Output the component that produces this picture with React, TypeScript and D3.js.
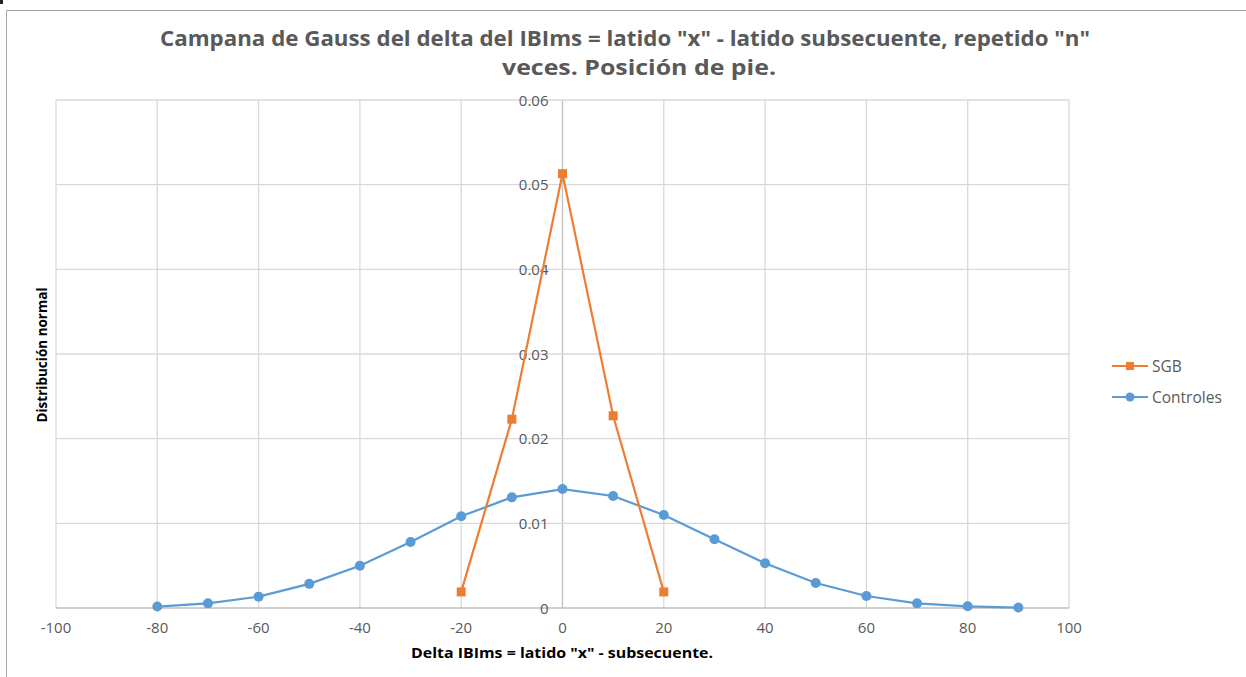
import React from "react";
import * as d3 from "d3";

const xTicks = [-100, -80, -60, -40, -20, 0, 20, 40, 60, 80, 100];
const yTicks = [0, 0.01, 0.02, 0.03, 0.04, 0.05, 0.06];
const yTickLabels = ["0", "0.01", "0.02", "0.03", "0.04", "0.05", "0.06"];

const sgbX = [-20, -10, 0, 10, 20];
const sgbY = [0.0019, 0.0223, 0.0513, 0.0227, 0.0019];

const ctrlX = [-80, -70, -60, -50, -40, -30, -20, -10, 0, 10, 20, 30, 40, 50, 60, 70, 80, 90];
const ctrlY = [0.00017, 0.00055, 0.00134, 0.00285, 0.0050, 0.0078, 0.01083, 0.01307, 0.01405, 0.01323, 0.01098, 0.00811, 0.00528, 0.00295, 0.00142, 0.00055, 0.0002, 0.00005];

const titleLines = ["Campana de Gauss del delta del IBIms = latido \"x\" - latido subsecuente, repetido \"n\"", "veces. Posición de pie."];
const xTitle = "Delta IBIms = latido \"x\" - subsecuente.";
const yTitle = "Distribución normal";
const seriesNames = ["SGB", "Controles"];

const ORANGE = "#ED7D31";
const BLUE = "#5B9BD5";
const FONT = "Open Sans, Noto Sans, sans-serif";

export default function App() {
  const W = 1246, H = 677;
  const x = d3.scaleLinear().domain([-100, 100]).range([56, 1069]);
  const y = d3.scaleLinear().domain([0, 0.06]).range([608, 100]);
  const line = d3.line<[number, number]>().x(d => x(d[0])).y(d => y(d[1]));
  const sgb: [number, number][] = sgbX.map((v, i) => [v, sgbY[i]]);
  const ctrl: [number, number][] = ctrlX.map((v, i) => [v, ctrlY[i]]);

  return (
    <svg width={W} height={H} style={{ position: "absolute", left: 0, top: 0, background: "#fff" }}>
      <rect x={0} y={0} width={W} height={H} fill="#fff" />
      <line x1={6.5} y1={10.5} x2={W} y2={10.5} stroke="#a6a6a6" />
      <line x1={6.5} y1={10.5} x2={6.5} y2={H} stroke="#a6a6a6" />
      <rect x={0} y={0} width={3} height={4} fill="#222" />
      {/* grid */}
      {xTicks.map(t => (
        <line key={"gx" + t} x1={x(t)} x2={x(t)} y1={y(0.06)} y2={y(0)} stroke={t === 0 ? "#bfbfbf" : "#d9d9d9"} strokeWidth={1.3} />
      ))}
      {yTicks.map(t => (
        <line key={"gy" + t} x1={x(-100)} x2={x(100)} y1={y(t)} y2={y(t)} stroke={t === 0 ? "#bfbfbf" : "#d9d9d9"} strokeWidth={1.3} />
      ))}
      {/* y tick labels */}
      {yTicks.map((t, i) => (
        <text key={"yl" + t} x={x(0) - 14} y={y(t) + 5.5} textAnchor="end" fontFamily={FONT} fontSize={15} fill="#595959">{yTickLabels[i]}</text>
      ))}
      {/* x tick labels */}
      {xTicks.map(t => (
        <text key={"xl" + t} x={x(t)} y={633} textAnchor="middle" fontFamily={FONT} fontSize={15} fill="#595959">{t}</text>
      ))}
      {/* series */}
      <path d={line(ctrl) || ""} fill="none" stroke={BLUE} strokeWidth={2.2} />
      {ctrl.map((d, i) => (
        <circle key={"c" + i} cx={x(d[0])} cy={y(d[1])} r={5} fill={BLUE} />
      ))}
      <path d={line(sgb) || ""} fill="none" stroke={ORANGE} strokeWidth={2.2} />
      {sgb.map((d, i) => (
        <rect key={"s" + i} x={x(d[0]) - 4.5} y={y(d[1]) - 4.5} width={9} height={9} fill={ORANGE} />
      ))}
      {/* title */}
      <text x={160} y={46} textLength={930} lengthAdjust="spacingAndGlyphs" fontFamily={FONT} fontWeight="bold" fontSize={21} fill="#595959">{titleLines[0]}</text>
      <text x={502} y={75} textLength={274} lengthAdjust="spacingAndGlyphs" fontFamily={FONT} fontWeight="bold" fontSize={21} fill="#595959">{titleLines[1]}</text>
      {/* axis titles */}
      <text x={411} y={658} textLength={302} lengthAdjust="spacingAndGlyphs" fontFamily={FONT} fontWeight="bold" fontSize={14} fill="#000">{xTitle}</text>
      <text transform="translate(47,355) rotate(-90)" textAnchor="middle" fontFamily={FONT} fontWeight="bold" fontSize={13.5} fill="#000">{yTitle}</text>
      {/* legend */}
      <line x1={1112} x2={1148} y1={366} y2={366} stroke={ORANGE} strokeWidth={2.2} />
      <rect x={1130 - 4} y={366 - 4} width={8} height={8} fill={ORANGE} />
      <text x={1152} y={371.5} fontFamily={FONT} fontSize={15.5} fill="#595959">{seriesNames[0]}</text>
      <line x1={1112} x2={1148} y1={397} y2={397} stroke={BLUE} strokeWidth={2.2} />
      <circle cx={1130} cy={397} r={4.5} fill={BLUE} />
      <text x={1152} y={402.5} fontFamily={FONT} fontSize={15.5} fill="#595959">{seriesNames[1]}</text>
    </svg>
  );
}
